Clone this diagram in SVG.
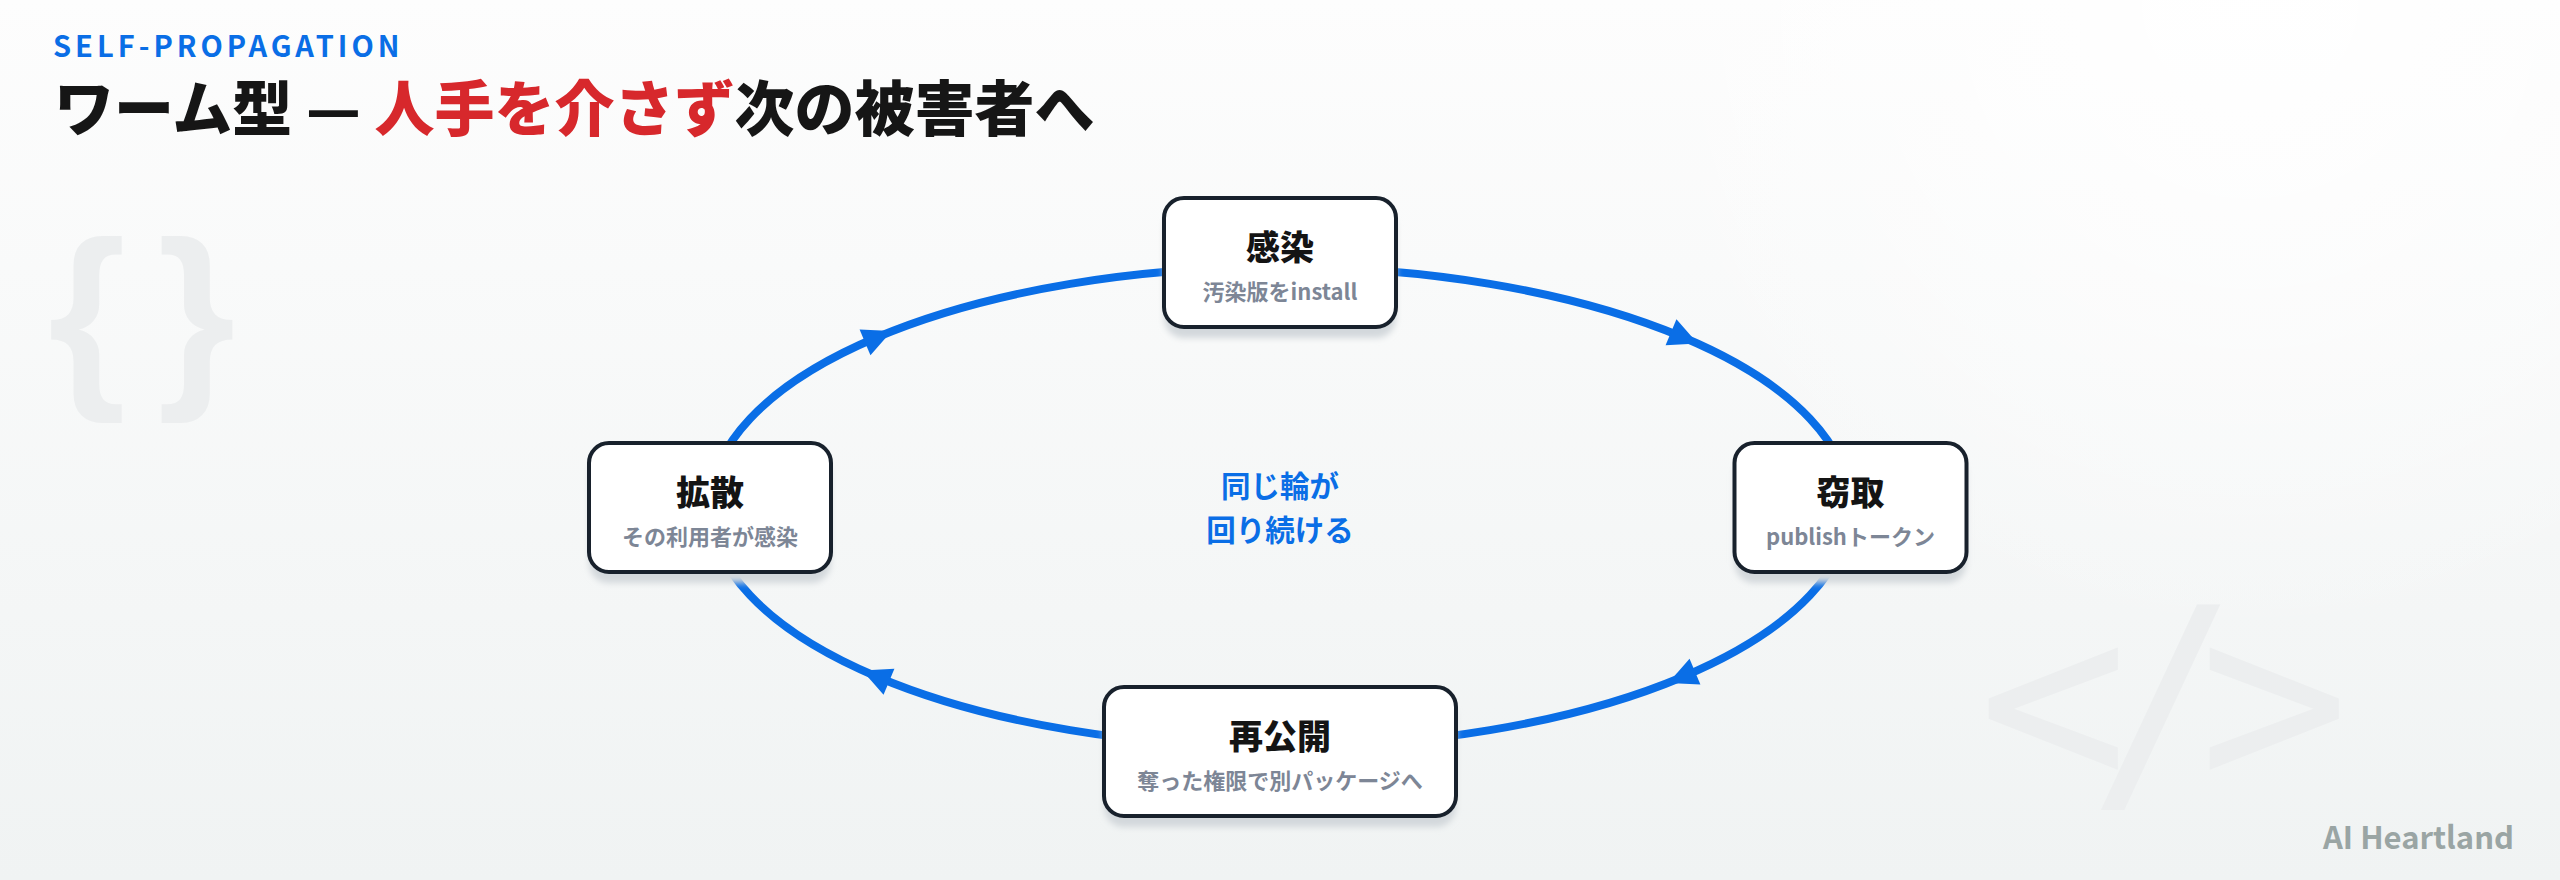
<svg xmlns="http://www.w3.org/2000/svg" width="2560" height="880" viewBox="0 0 2560 880">
<defs>
<linearGradient id="bg" x1="0" y1="0" x2="0" y2="1">
<stop offset="0" stop-color="#fdfdfd"/>
<stop offset="1" stop-color="#f0f3f3"/>
</linearGradient>
<radialGradient id="glow" cx="2250" cy="0" r="650" gradientUnits="userSpaceOnUse">
<stop offset="0" stop-color="#ffffff" stop-opacity="0.9"/>
<stop offset="1" stop-color="#ffffff" stop-opacity="0"/>
</radialGradient>
<filter id="sh" x="-10%" y="-10%" width="120%" height="150%"><feGaussianBlur stdDeviation="3"/></filter>
<style>
.jp { font-family: "Noto Sans CJK JP", "Noto Sans", sans-serif; }
.wm { fill: #eceeef; }
.box { fill: #ffffff; stroke: #18212c; stroke-width: 4; }
.shadow { fill: #d3d8dc; filter: url(#sh); }
.ttl { font-size: 34px; font-weight: 900; fill: #141414; text-anchor: middle; }
.sub { font-size: 22px; font-weight: 700; fill: #7d8696; text-anchor: middle; }
.edge { fill: none; stroke: #0a6ee6; stroke-width: 8; }
.arrow { fill: #0a6ee6; }
</style>
</defs>
<rect width="2560" height="880" fill="url(#bg)"/>
<rect width="2560" height="880" fill="url(#glow)"/>

<g id="watermarks">
<text class="wm" x="48" y="381" font-family="Liberation Sans, sans-serif" font-size="200" font-weight="700" letter-spacing="-12">{ }</text>
<text class="wm" x="1978" y="787" font-family="DejaVu Sans Mono, monospace" font-size="250" letter-spacing="-40">&lt;/&gt;</text>
</g>

<g id="header" class="jp">
<text x="53" y="57" font-size="29" font-weight="700" fill="#0a6ee6" letter-spacing="4">SELF-PROPAGATION</text>
<text x="54" y="131" font-size="60" font-weight="900" fill="#161616">ワーム型 — <tspan fill="#d7282c">人手を介さず</tspan>次の被害者へ</text>
</g>

<g id="connectors">
<path class="edge" d="M 1280 267 A 570 240 0 0 1 1850 507"/>
<path class="edge" d="M 1850 507 A 570 240 0 0 1 1280 747"/>
<path class="edge" d="M 1280 747 A 570 240 0 0 1 710 507"/>
<path class="edge" d="M 710 507 A 570 240 0 0 1 1280 267"/>
<polygon class="arrow" points="-13,-14 16,0 -13,14" transform="translate(1683 337.3) rotate(22.8)"/>
<polygon class="arrow" points="-13,-14 16,0 -13,14" transform="translate(1683 676.7) rotate(157.2)"/>
<polygon class="arrow" points="-13,-14 16,0 -13,14" transform="translate(877 676.7) rotate(202.8)"/>
<polygon class="arrow" points="-13,-14 16,0 -13,14" transform="translate(877 337.3) rotate(-22.8)"/>
</g>

<g id="center-label" class="jp" font-size="29.5" font-weight="700" fill="#0a6ee6" text-anchor="middle">
<text x="1280" y="497">同じ輪が</text>
<text x="1280" y="541">回り続ける</text>
</g>

<g id="node-infect" class="jp">
<rect class="shadow" x="1164" y="209" width="232" height="129" rx="20"/>
<rect class="box" x="1164" y="198" width="232" height="129" rx="20"/>
<text class="ttl" x="1280" y="260">感染</text>
<text class="sub" x="1280" y="300">汚染版をinstall</text>
</g>

<g id="node-steal" class="jp">
<rect class="shadow" x="1734.5" y="454" width="232" height="129" rx="20"/>
<rect class="box" x="1734.5" y="443" width="232" height="129" rx="20"/>
<text class="ttl" x="1850.5" y="505">窃取</text>
<text class="sub" x="1850.5" y="545">publishトークン</text>
</g>

<g id="node-spread" class="jp">
<rect class="shadow" x="589" y="454" width="242" height="129" rx="20"/>
<rect class="box" x="589" y="443" width="242" height="129" rx="20"/>
<text class="ttl" x="710" y="505">拡散</text>
<text class="sub" x="710" y="545">その利用者が感染</text>
</g>

<g id="node-republish" class="jp">
<rect class="shadow" x="1104" y="698" width="352" height="129" rx="20"/>
<rect class="box" x="1104" y="687" width="352" height="129" rx="20"/>
<text class="ttl" x="1280" y="749">再公開</text>
<text class="sub" x="1280" y="789">奪った権限で別パッケージへ</text>
</g>

<g id="brand" class="jp">
<text x="2514" y="849" font-size="31" font-weight="700" fill="#9aa5a4" text-anchor="end">AI Heartland</text>
</g>
</svg>
